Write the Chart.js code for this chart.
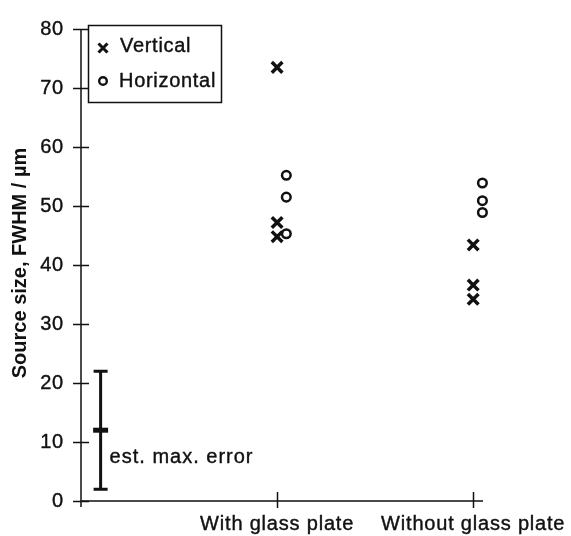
<!DOCTYPE html>
<html>
<head>
<meta charset="utf-8">
<script src="https://cdn.jsdelivr.net/npm/chart.js@4/dist/chart.umd.min.js"></script>
<style>
  html, body { margin: 0; padding: 0; background: #fff; }
  #wrap { width: 571px; height: 536px; }
</style>
</head>
<body>
<div id="wrap"><canvas id="chart" width="571" height="536"></canvas></div>
<script>
// Measurement groups along the x axis
const categories = ['With glass plate', 'Without glass plate'];

// Source size (FWHM, µm) per group
const verticalWithPlate = [73.5, 47.2, 44.8];
const verticalWithoutPlate = [43.4, 36.6, 34.2];
const horizontalWithPlate = [55.2, 51.5, 45.3];
const horizontalWithoutPlate = [53.9, 50.9, 48.9];

// Y axis ticks
const yTicks = [0, 10, 20, 30, 40, 50, 60, 70, 80];

// Estimated maximum error bar: centre value and half range
const errorCenter = 12;
const errorHalfRange = 10;
const errorLabel = 'est. max. error';

const axisTitle = 'Source size, FWHM / µm';
const legendLabels = ['Vertical', 'Horizontal'];

// Horizontal points are drawn slightly right of their group position
const HORIZ_SHIFT = 0.047;
const ERROR_X = 0.1;

function toPoints(values, groupIndex, shift) {
  return values.map(v => ({ x: groupIndex + 1 + shift, y: v }));
}

const FONT = '"Liberation Sans", Arial, Helvetica, sans-serif';
const INK = '#111';
const SPACING = '0.8px';
const TEXT_STROKE = 0.4;

function drawText(ctx, text, x, y) {
  ctx.fillText(text, x, y);
  ctx.lineWidth = TEXT_STROKE;
  ctx.strokeText(text, x, y);
}

const decorations = {
  id: 'decorations',
  beforeDraw(chart) {
    chart.ctx.letterSpacing = SPACING;
  },
  afterDraw(chart) {
    const ctx = chart.ctx;
    const xs = chart.scales.x, ys = chart.scales.y;
    const L = xs.left, R = xs.right, T = ys.top, B = ys.bottom;
    ctx.save();
    ctx.strokeStyle = INK;
    ctx.fillStyle = INK;
    ctx.lineWidth = 1.5;
    ctx.lineCap = 'butt';

    // axis lines
    ctx.beginPath();
    ctx.moveTo(L, T);
    ctx.lineTo(L, B + 6);
    ctx.moveTo(L, B);
    ctx.lineTo(R, B);
    ctx.stroke();

    // y ticks crossing the axis
    ctx.beginPath();
    yTicks.forEach(v => {
      const y = Math.round(ys.getPixelForValue(v)) + 0.5;
      ctx.moveTo(L - 8, y);
      ctx.lineTo(L + 8, y);
    });
    // x ticks crossing the axis
    categories.forEach((c, i) => {
      const x = Math.round(xs.getPixelForValue(i + 1)) + 0.5;
      ctx.moveTo(x, B - 9);
      ctx.lineTo(x, B + 7);
    });
    ctx.stroke();

    // error bar
    const ex = xs.getPixelForValue(ERROR_X);
    const eTop = ys.getPixelForValue(errorCenter + errorHalfRange);
    const eBot = ys.getPixelForValue(errorCenter - errorHalfRange);
    const eMid = ys.getPixelForValue(errorCenter);
    ctx.lineWidth = 3;
    ctx.beginPath();
    ctx.moveTo(ex, eTop);
    ctx.lineTo(ex, eBot);
    ctx.moveTo(ex - 7, eTop);
    ctx.lineTo(ex + 7, eTop);
    ctx.moveTo(ex - 7, eBot);
    ctx.lineTo(ex + 7, eBot);
    ctx.stroke();
    ctx.lineWidth = 5;
    ctx.beginPath();
    ctx.moveTo(ex - 7.5, eMid);
    ctx.lineTo(ex + 7.5, eMid);
    ctx.stroke();

    ctx.font = '20px ' + FONT;
    ctx.letterSpacing = '1px';
    ctx.textAlign = 'left';
    ctx.textBaseline = 'alphabetic';
    drawText(ctx, errorLabel, ex + 9, eMid + 33);

    // legend box
    ctx.lineWidth = 1.5;
    ctx.strokeRect(88.5, 25.5, 133, 77);
    // cross marker
    ctx.lineWidth = 3;
    ctx.beginPath();
    ctx.moveTo(103 - 4.5, 48 - 4.5);
    ctx.lineTo(103 + 4.5, 48 + 4.5);
    ctx.moveTo(103 + 4.5, 48 - 4.5);
    ctx.lineTo(103 - 4.5, 48 + 4.5);
    ctx.stroke();
    // circle marker
    ctx.lineWidth = 2.4;
    ctx.beginPath();
    ctx.arc(103, 81, 3.8, 0, Math.PI * 2);
    ctx.stroke();
    ctx.letterSpacing = '0.7px';
    drawText(ctx, legendLabels[0], 120, 52);
    drawText(ctx, legendLabels[1], 119, 87);

    // y axis title
    ctx.font = 'bold 20px ' + FONT;
    ctx.letterSpacing = '0px';
    ctx.textAlign = 'center';
    ctx.textBaseline = 'middle';
    ctx.translate(20, 263);
    ctx.rotate(-Math.PI / 2);
    ctx.fillText(axisTitle, 0, 0);
    ctx.restore();
    ctx.letterSpacing = SPACING;
  }
};

Chart.defaults.font.family = FONT;
Chart.defaults.font.size = 20;
Chart.defaults.color = INK;

const tickText = { textStrokeColor: INK, textStrokeWidth: TEXT_STROKE };

new Chart(document.getElementById('chart'), {
  type: 'scatter',
  data: {
    datasets: [
      {
        label: legendLabels[0],
        data: [
          ...toPoints(verticalWithPlate, 0, 0),
          ...toPoints(verticalWithoutPlate, 1, 0)
        ],
        pointStyle: 'crossRot',
        pointRadius: 7.5,
        pointBorderWidth: 3.5,
        borderColor: INK,
        backgroundColor: INK,
        clip: false
      },
      {
        label: legendLabels[1],
        data: [
          ...toPoints(horizontalWithPlate, 0, HORIZ_SHIFT),
          ...toPoints(horizontalWithoutPlate, 1, HORIZ_SHIFT)
        ],
        pointStyle: 'circle',
        pointRadius: 4.3,
        pointBorderWidth: 2.5,
        borderColor: INK,
        backgroundColor: 'rgba(255,255,255,0)',
        clip: false
      }
    ]
  },
  options: {
    responsive: false,
    animation: false,
    events: [],
    layout: { padding: { top: 21, right: 88, left: 0, bottom: 0 } },
    plugins: {
      legend: { display: false },
      tooltip: { enabled: false }
    },
    scales: {
      x: {
        type: 'linear',
        min: 0,
        max: 2.05,
        grid: { display: false, drawTicks: false },
        border: { display: false },
        afterBuildTicks(axis) {
          axis.ticks = categories.map((c, i) => ({ value: i + 1 }));
        },
        afterFit(axis) { axis.height = 35; },
        ticks: {
          ...tickText,
          padding: 11,
          autoSkip: false,
          maxRotation: 0,
          callback: (v) => categories[Math.round(v) - 1] || ''
        }
      },
      y: {
        min: 0,
        max: 80,
        grid: { display: false, drawTicks: false },
        border: { display: false },
        afterBuildTicks(axis) {
          axis.ticks = yTicks.map(v => ({ value: v }));
        },
        afterFit(axis) { axis.width = 81; },
        ticks: { ...tickText, padding: 17 }
      }
    }
  },
  plugins: [decorations]
});
</script>
</body>
</html>
